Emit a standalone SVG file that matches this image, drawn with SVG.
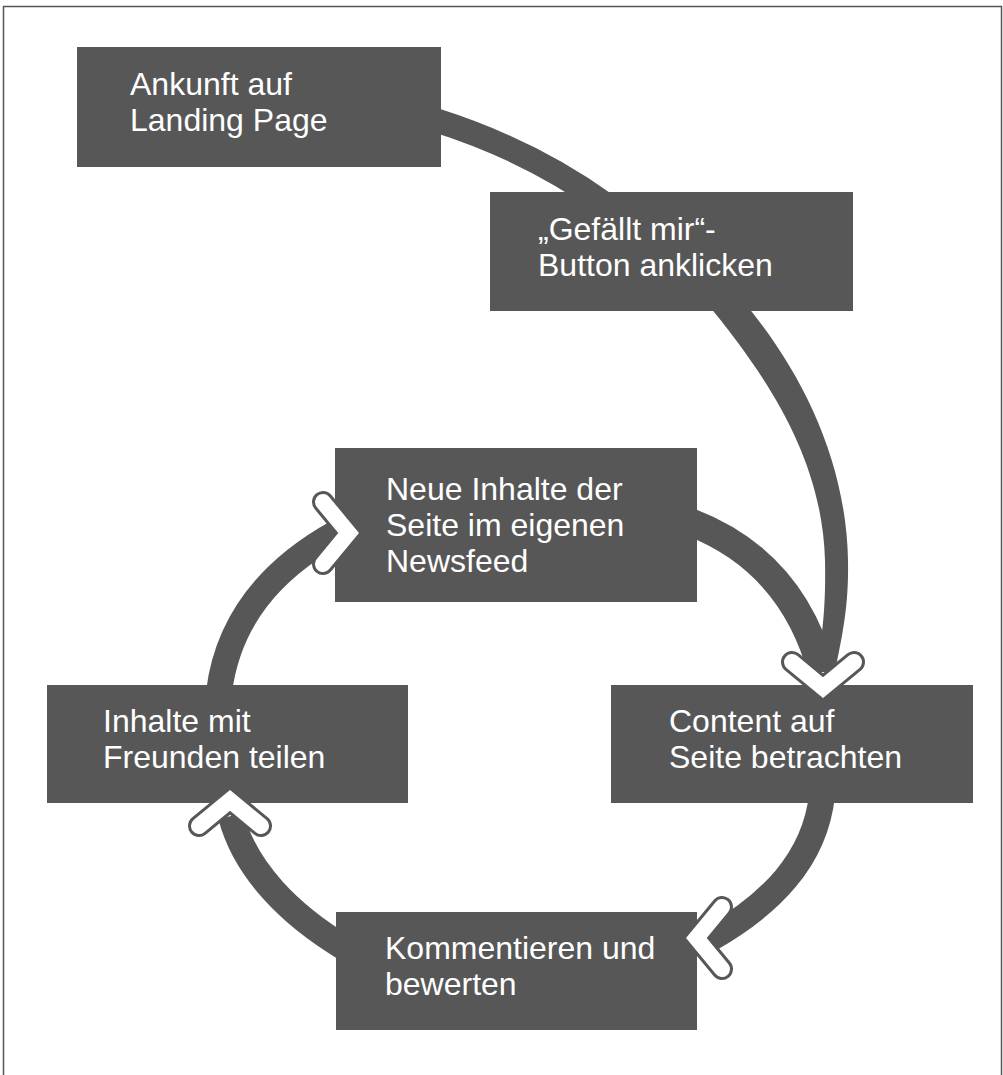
<svg xmlns="http://www.w3.org/2000/svg" width="1003" height="1075" viewBox="0 0 1003 1075">
<style>
.box{fill:#575757}
.lbl{font-family:"Liberation Sans",Arial,sans-serif;font-size:32px;fill:#ffffff}
.con{fill:none;stroke:#575757;stroke-linecap:butt}
.conf{fill:#575757;stroke:none}
</style>
<defs>
<g id="chev">
<polyline points="-31,-40 0,-14.4 31,-40" fill="none" stroke="#575757" stroke-width="22" stroke-linecap="round" stroke-linejoin="miter"/>
<polyline points="-31,-40 0,-14.4 31,-40" fill="none" stroke="#ffffff" stroke-width="16" stroke-linecap="round" stroke-linejoin="miter"/>
</g>
</defs>
<rect x="0" y="0" width="1003" height="1075" fill="#ffffff"/>
<rect x="3.5" y="6.5" width="998" height="1080" fill="none" stroke="#555555" stroke-width="1.5"/>
<g id="connectors">
<path class="con" stroke-width="24" d="M 435 120 Q 530 150 605 204"/>
<path class="conf" d="M 706 302 C 770 380, 822 460, 825 560 C 826 610, 822 640, 815 672 L 835 672 C 841 640, 849 610, 848 560 C 846 460, 802 372, 744 302 Z"/>
<path class="con" stroke-width="28" d="M 690 522 C 750 545, 800 590, 822 672"/>
<path class="con" stroke-width="26" d="M 822 795 C 815 860, 770 905, 708 940"/>
<path class="con" stroke-width="26" d="M 345 948 C 290 915, 245 870, 231 816"/>
<path class="con" stroke-width="26" d="M 219 692 C 228 620, 270 570, 336 533"/>
</g>
<g id="node-ankunft"><rect class="box" x="77" y="47" width="364" height="120"/><text class="lbl" x="130" y="95">Ankunft auf</text><text class="lbl" x="130" y="131">Landing Page</text></g>
<g id="node-gefaellt"><rect class="box" x="490" y="192" width="363" height="119"/><text class="lbl" x="538" y="240">„Gefällt mir“-</text><text class="lbl" x="538" y="276">Button anklicken</text></g>
<g id="node-neue"><rect class="box" x="335" y="448" width="362" height="154"/><text class="lbl" x="386" y="500">Neue Inhalte der</text><text class="lbl" x="386" y="536">Seite im eigenen</text><text class="lbl" x="386" y="572">Newsfeed</text></g>
<g id="node-teilen"><rect class="box" x="47" y="685" width="361" height="118"/><text class="lbl" x="103" y="732">Inhalte mit</text><text class="lbl" x="103" y="768">Freunden teilen</text></g>
<g id="node-content"><rect class="box" x="611" y="685" width="362" height="118"/><text class="lbl" x="669" y="732">Content auf</text><text class="lbl" x="669" y="768">Seite betrachten</text></g>
<g id="node-kommentieren"><rect class="box" x="336" y="912" width="361" height="118"/><text class="lbl" x="385" y="959">Kommentieren und</text><text class="lbl" x="385" y="995">bewerten</text></g>
<g id="arrowheads">
<use href="#chev" transform="translate(823,702)"/>
<use href="#chev" transform="translate(682,938) rotate(90)"/>
<use href="#chev" transform="translate(230,786) rotate(180)"/>
<use href="#chev" transform="translate(363,533) rotate(-90)"/>
</g>
</svg>
